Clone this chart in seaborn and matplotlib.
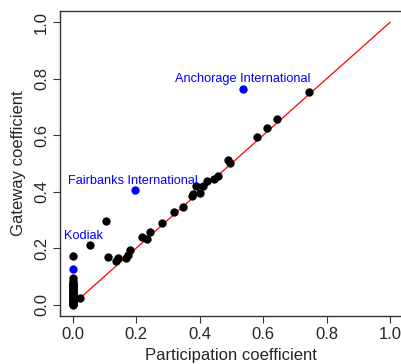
import matplotlib
matplotlib.use('Agg')
import matplotlib.pyplot as plt
import seaborn as sns
import pandas as pd

# Участие / шлюз для аэропортов
participation = [0.0] * 30 + [
    0.0, 0.024, 0.056, 0.104, 0.112, 0.135, 0.144, 0.167, 0.173, 0.18,
    0.219, 0.233, 0.245, 0.28, 0.32, 0.346, 0.375, 0.378, 0.388, 0.401,
    0.41, 0.422, 0.445, 0.459, 0.49, 0.496, 0.58, 0.612, 0.643, 0.745,
]
gateway = [
    0.0, 0.002, 0.004, 0.007, 0.01, 0.012, 0.015, 0.018, 0.021, 0.024,
    0.027, 0.03, 0.032, 0.035, 0.038, 0.041, 0.044, 0.047, 0.05, 0.053,
    0.056, 0.059, 0.062, 0.065, 0.068, 0.071, 0.074, 0.078, 0.082, 0.095,
    0.173, 0.022, 0.21, 0.296, 0.17, 0.154, 0.166, 0.166, 0.175, 0.194,
    0.241, 0.234, 0.258, 0.288, 0.328, 0.346, 0.384, 0.393, 0.421, 0.396,
    0.419, 0.437, 0.445, 0.457, 0.513, 0.503, 0.593, 0.625, 0.656, 0.752,
]

airports = ['Anchorage International', 'Fairbanks International', 'Kodiak']
airport_part = [0.536, 0.196, 0.0]
airport_gate = [0.765, 0.407, 0.126]
label_x = [0.536, 0.19, 0.035]
label_y = [0.80, 0.437, 0.243]

diag = [0, 1]

df = pd.DataFrame({'p': participation, 'g': gateway})
df_air = pd.DataFrame({'p': airport_part, 'g': airport_gate, 'name': airports})

sns.set_style('ticks')
plt.rcParams['font.family'] = ['Liberation Sans', 'DejaVu Sans']

fig = plt.figure(figsize=(4.01, 3.64), dpi=100)
ax = fig.add_axes([0.1496, 0.132, 0.855, 0.838])

sns.lineplot(x=diag, y=diag, color='red', linewidth=0.9, ax=ax)
sns.scatterplot(data=df, x='p', y='g', color='black', s=36, edgecolor='black',
                linewidth=0, ax=ax, zorder=3)
sns.scatterplot(data=df_air, x='p', y='g', color='#0000ff', s=36,
                edgecolor='#0000ff', linewidth=0, ax=ax, zorder=4)

for name, lx, ly in zip(airports, label_x, label_y):
    ax.text(lx, ly, name, color='#0000ff', fontsize=9.2, ha='center', va='center')

ax.set_xlim(-0.04, 1.04)
ax.set_ylim(-0.04, 1.04)
ax.set_xticks([0.0, 0.2, 0.4, 0.6, 0.8, 1.0])
ax.set_yticks([0.0, 0.2, 0.4, 0.6, 0.8, 1.0])
ax.set_xticklabels(['0.0', '0.2', '0.4', '0.6', '0.8', '1.0'], fontsize=12)
ax.set_yticklabels(['0.0', '0.2', '0.4', '0.6', '0.8', '1.0'], fontsize=12,
                   rotation=90, va='center')
ax.tick_params(length=5, width=0.8, color='#333333', pad=3)
for side in ['left', 'bottom', 'top']:
    ax.spines[side].set_color('#333333')
    ax.spines[side].set_linewidth(1.0)
ax.spines['right'].set_visible(False)

ax.set_xlabel('Participation coefficient', fontsize=12, labelpad=4)
ax.set_ylabel('Gateway coefficient', fontsize=12, labelpad=6)

fig.savefig('out.png', dpi=100)
